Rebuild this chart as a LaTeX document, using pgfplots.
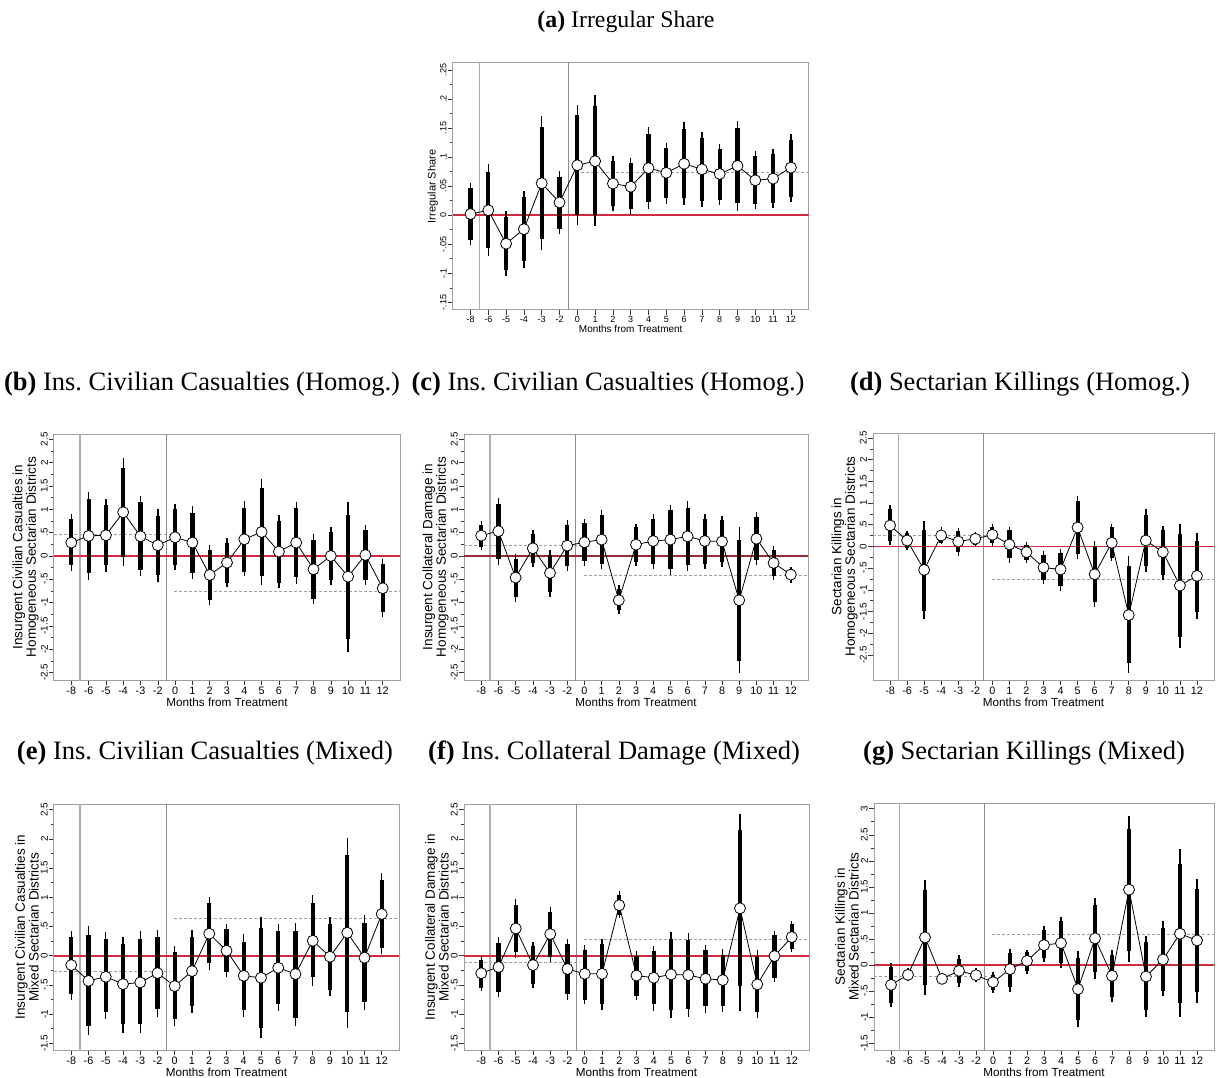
\documentclass[border=0pt]{standalone}
\usepackage{pgfplots}
\pgfplotsset{compat=1.18}
\usepackage{pgfplotstable}
\usepackage{fontspec}
\setmainfont{Liberation Sans}
\newfontfamily\tfont{Liberation Serif}
\definecolor{zred}{RGB}{212,40,62}
\definecolor{zdred}{RGB}{150,40,55}
\definecolor{vgA}{RGB}{175,175,175}
\definecolor{vgB}{RGB}{140,140,140}
\definecolor{mgray}{RGB}{160,160,160}

\pgfplotstableread{
x m l95 h95 l90 h90
0 .002 -.051 .055 -.043 .046
1 .0085 -.07 .088 -.056 .074
2 -.049 -.104 .007 -.094 -.003
3 -.024 -.09 .042 -.078 .031
4 .055 -.06 .17 -.041 .152
5 .022 -.033 .076 -.023 .066
6 .086 -.017 .19 0.0 .173
7 .093 -.019 .206 0.0 .1875
8 .0545 .007 .102 .015 .094
9 .049 .001 .098 .01 .09
10 .081 .01 .151 .022 .139
11 .073 .02 .125 .029 .116
12 .0885 .017 .16 .029 .148
13 .079 .014 .144 .025 .133
14 .071 .017 .123 .026 .114
15 .085 .007 .1625 .021 .15
16 .06 .01 .11 .019 .102
17 .063 .012 .114 .021 .105
18 .082 .023 .14 .032 .13
}\tA

\pgfplotstableread{
x m l95 h95 l90 h90
0 .286 -.314 .893 -.2 .786
1 .43 -.514 1.38 -.357 1.21
2 .443 -.336 1.21 -.2 1.086
3 .936 -.214 2.09 -.014 1.89
4 .42 -.44 1.29 -.31 1.16
5 .23 -.55 1.0 -.41 .86
6 .4 -.3 1.11 -.2 1.0
7 .286 -.5 1.06 -.37 .914
8 -.407 -1.06 .236 -.94 .13
9 -.143 -.66 .38 -.57 .27
10 .357 -.44 1.17 -.336 1.03
11 .514 -.62 1.65 -.43 1.45
12 .093 -.69 .88 -.57 .75
13 .286 -.6 1.16 -.46 1.02
14 -.286 -1.04 .46 -.92 .34
15 0.0 -.62 .61 -.51 .51
16 -.443 -2.06 1.16 -1.79 .88
17 .02 -.62 .66 -.51 .557
18 -.693 -1.31 -.07 -1.21 -.17
}\tB

\pgfplotstableread{
x m l95 h95 l90 h90
0 .436 .136 .74 .19 .67
1 .53 -.186 1.24 -.057 1.12
2 -.464 -.986 .05 -.88 -.057
3 .164 -.236 .564 -.15 .48
4 -.364 -.88 .12 -.77 .03
5 .221 -.32 .764 -.22 .657
6 .293 -.214 .8 -.114 .714
7 .35 -.27 .98 -.18 .87
8 -.95 -1.24 -.63 -1.16 -.7
9 .243 -.214 .69 -.13 .61
10 .32 -.27 .907 -.164 .8
11 .35 -.4 1.1 -.27 .98
12 .42 -.33 1.17 -.2 1.036
13 .32 -.27 .907 -.164 .8
14 .31 -.236 .857 -.13 .764
15 -.95 -2.52 .62 -2.25 .35
16 .37 -.186 .94 -.08 .836
17 -.15 -.52 .207 -.436 .12
18 -.4 -.57 -.236 -.52 -.27
}\tC

\pgfplotstableread{
x m l95 h95 l90 h90
0 .485 .023 .96 .115 .86
1 .138 -.077 .346 -.04 .31
2 -.54 -1.67 .577 -1.48 .385
3 .254 .06 .446 .09 .385
4 .115 -.215 .423 -.138 .346
5 .177 0.0 .33 .038 .27
6 .27 .015 .523 .077 .446
7 .046 -.37 .46 -.27 .385
8 -.13 -.37 .1 -.31 .038
9 -.485 -.87 -.115 -.77 -.19
10 -.53 -1.02 -.06 -.92 -.154
11 .438 -.29 1.17 -.17 1.04
12 -.64 -1.4 .115 -1.27 0.0
13 .085 -.33 .523 -.254 .446
14 -1.58 -2.92 -.215 -2.69 -.446
15 .138 -.59 .86 -.46 .73
16 -.13 -.77 .477 -.654 .385
17 -.9 -2.35 .523 -2.09 .28
18 -.677 -1.67 .31 -1.5 .13
}\tD

\pgfplotstableread{
x m l95 h95 l90 h90
0 -.16 -.754 .423 -.657 .326
1 -.43 -1.35 .509 -1.2 .354
2 -.36 -1.09 .41 -.97 .28
3 -.486 -1.32 .326 -1.17 .194
4 -.457 -1.32 .423 -1.17 .28
5 -.297 -1.046 .44 -.914 .326
6 -.52 -1.2 .17 -1.09 .057
7 -.263 -.977 .44 -.857 .326
8 .377 -.246 1.0 -.131 .9
9 .086 -.36 .537 -.274 .451
10 -.343 -1.057 .366 -.93 .24
11 -.377 -1.4 .657 -1.23 .48
12 -.206 -.95 .537 -.83 .423
13 -.314 -1.206 .566 -1.063 .423
14 .257 -.514 1.04 -.371 .9
15 -.017 -.69 .66 -.589 .54
16 .394 -1.23 2.01 -.96 1.726
17 -.034 -.93 .69 -.8 .56
18 .714 .023 1.41 .137 1.3
}\tE

\pgfplotstableread{
x m l95 h95 l90 h90
0 -.3 -.6 -.01 -.56 -.08
1 -.193 -.7 .318 -.625 .22
2 .466 -.034 .966 .06 .875
3 -.16 -.55 .227 -.477 .16
4 .37 -.108 .84 -.02 .756
5 -.227 -.75 .29 -.66 .2
6 -.31 -.83 .176 -.76 .09
7 -.31 -.93 .29 -.83 .2
8 .864 .65 1.11 .69 1.045
9 -.34 -.76 .08 -.69 0.0
10 -.377 -.94 .17 -.834 .086
11 -.32 -1.06 .4 -.93 .286
12 -.331 -1.046 .383 -.92 .27
13 -.394 -.989 .183 -.863 .097
14 -.417 -.96 .114 -.857 .011
15 .811 -.95 2.43 -.514 2.15
16 -.491 -1.063 .097 -.971 0.0
17 -.006 -.457 .429 -.377 .354
18 .32 .069 .594 .114 .537
}\tF

\pgfplotstableread{
x m l95 h95 l90 h90
0 -.378 -.795 .038 -.73 -.04
1 -.186 -.31 -.06 -.27 -.09
2 .532 -.57 1.64 -.39 1.45
3 -.263 -.35 -.19 -.31 -.22
4 -.109 -.41 .186 -.346 .12
5 -.192 -.33 -.06 -.28 -.1
6 -.327 -.54 -.135 -.474 -.186
7 -.077 -.506 .314 -.41 .23
8 .083 -.173 .295 -.12 .25
9 .385 .058 .744 .135 .68
10 .423 -.058 .917 .038 .84
11 -.46 -1.19 .276 -1.05 .135
12 .513 -.27 1.29 -.135 1.16
13 -.205 -.71 .295 -.615 .2
14 1.449 .058 2.86 .276 2.62
15 -.218 -.987 .55 -.86 .436
16 .109 -.6 .84 -.494 .71
17 .603 -1.0 2.22 -.73 1.94
18 .474 -.73 1.66 -.52 1.46
}\tG

\pgfplotsset{
  panel/.style={
    scale only axis, anchor=north west,
    xmin=-1, xmax=19,
    xtick={0,...,18},
    xticklabels={-8,-6,-5,-4,-3,-2,0,1,2,3,4,5,6,7,8,9,10,11,12},
    xtick pos=bottom, ytick pos=left,
    tick align=outside,
    major tick length=5pt, minor tick length=3pt,
    minor y tick num=1,
    axis line style={gray!75, line width=1pt},
    every tick/.style={black!80, line width=0.6pt},
    yticklabel style={rotate=90, anchor=south, inner sep=1pt, font=\fontsize{9.8}{10}\selectfont},
    xticklabel style={inner sep=1.5pt, font=\fontsize{10.8}{11}\selectfont},
    xlabel={Months from Treatment},
    xlabel style={inner sep=0pt, yshift=-2pt, font=\fontsize{11.7}{12}\selectfont},
    ylabel style={align=center, inner sep=1pt, font=\fontsize{13.5}{12.5}\selectfont},
    clip=true,
  },
  pRange/.style={ymin=-2.66, ymax=2.614, ytick={-2.5,-2,...,2.5},
    yticklabels={-2.5,-2,-1.5,-1,-.5,0,.5,1,1.5,2,2.5}},
  pRangeD/.style={ymin=-3.077, ymax=2.615, ytick={-2.5,-2,...,2.5},
    yticklabels={-2.5,-2,-1.5,-1,-.5,0,.5,1,1.5,2,2.5}},
  pRangeE/.style={ymin=-1.614, ymax=2.597, ytick={-1.5,-1,...,2.5},
    yticklabels={-1.5,-1,-.5,0,.5,1,1.5,2,2.5}},
  pRangeG/.style={ymin=-1.628, ymax=3.11, ytick={-1.5,-1,...,3},
    yticklabels={-1.5,-1,-.5,0,.5,1,1.5,2,2.5,3}},
}

\newcommand{\drawpanel}[4]{%
  \addplot[draw=mgray, line width=1pt, dash pattern=on 3pt off 2pt, forget plot] coordinates {(-1,#2) (5.75,#2)};
  \addplot[draw=mgray, line width=1pt, dash pattern=on 3pt off 2pt, forget plot] coordinates {(5.95,#3) (19,#3)};
  \addplot[draw=vgA, line width=1.5pt, forget plot] coordinates {(0.5,-10) (0.5,10)};
  \addplot[draw=vgB, line width=1pt, forget plot] coordinates {(5.5,-10) (5.5,10)};
  \addplot[draw=#4, color=#4, line width=1.6pt, mark=none, forget plot] coordinates {(-1,0) (19,0)};
  \addplot[only marks, mark=none, forget plot, error bars/.cd, y dir=both, y explicit, error mark=none,
     error bar style={line width=1.4pt, black}]
     table[x=x, y=m, y error plus expr=\thisrow{h95}-\thisrow{m}, y error minus expr=\thisrow{m}-\thisrow{l95}] {#1};
  \addplot[only marks, mark=none, forget plot, error bars/.cd, y dir=both, y explicit, error mark=none,
     error bar style={line width=4.2pt, black}]
     table[x=x, y=m, y error plus expr=\thisrow{h90}-\thisrow{m}, y error minus expr=\thisrow{m}-\thisrow{l90}] {#1};
  \addplot[black, line width=0.8pt, mark=*, mark size=5.5pt, mark options={fill=white, draw=black, line width=0.8pt, solid}] table[x=x, y=m] {#1};
}

\begin{document}
\begin{tikzpicture}
\path[use as bounding box] (0,0) rectangle (1220pt,-1077pt);

% titles
\node[font=\tfont\fontsize{23.8}{26}\selectfont, inner sep=0pt] at (626pt,-22pt) {\textbf{(a)} Irregular Share};
\begin{scope}[every node/.style={font=\tfont\fontsize{26.5}{29}\selectfont, inner sep=0pt}]
\node at (202pt,-384pt) {\textbf{(b)} Ins.\ Civilian Casualties (Homog.)};
\node at (608pt,-384pt) {\textbf{(c)} Ins.\ Civilian Casualties (Homog.)};
\node at (1020pt,-384pt) {\textbf{(d)} Sectarian Killings (Homog.)};
\node at (205pt,-753pt) {\textbf{(e)} Ins.\ Civilian Casualties (Mixed)};
\node at (614pt,-753pt) {\textbf{(f)} Ins.\ Collateral Damage (Mixed)};
\node at (1024pt,-753pt) {\textbf{(g)} Sectarian Killings (Mixed)};
\end{scope}

% (a)
\begin{axis}[panel, at={(452.7pt,-63pt)}, width=356pt, height=247pt,
  ymin=-0.163, ymax=0.262, ytick={-0.15,-0.1,...,0.25},
  yticklabels={-.15,-.1,-.05,0,.05,.1,.15,.2,.25},
  xticklabel style={font=\fontsize{9}{10}\selectfont},
  yticklabel style={font=\fontsize{9}{10}\selectfont},
  xlabel style={font=\fontsize{10}{11}\selectfont, yshift=1pt},
  ylabel style={font=\fontsize{11}{12}\selectfont},
  ylabel={Irregular Share}]
\drawpanel{\tA}{0.002}{0.073}{zred}
\end{axis}

% (b)
\begin{axis}[panel, pRange, at={(54pt,-434pt)}, width=346pt, height=246pt,
  ylabel={Insurgent Civilian Casualties in\\Homogeneous Sectarian Districts}]
\drawpanel{\tB}{0.464}{-0.771}{zred}
\end{axis}

% (c)
\begin{axis}[panel, pRange, at={(464pt,-434pt)}, width=344pt, height=246pt,
  ylabel={Insurgent Collateral Damage in\\Homogeneous Sectarian Districts}]
\drawpanel{\tC}{0.214}{-0.42}{zdred}
\end{axis}

% (d)
\begin{axis}[panel, pRangeD, at={(873pt,-433pt)}, width=341pt, height=247pt,
  ylabel={Sectarian Killings in\\Homogeneous Sectarian Districts}]
\drawpanel{\tD}{0.254}{-0.77}{zred}
\end{axis}

% (e)
\begin{axis}[panel, pRangeE, at={(54pt,-804pt)}, width=345pt, height=246pt,
  ylabel={Insurgent Civilian Casualties in\\Mixed Sectarian Districts}]
\drawpanel{\tE}{-0.263}{0.629}{zred}
\end{axis}

% (f)
\begin{axis}[panel, pRangeE, at={(464pt,-804pt)}, width=345pt, height=246pt,
  ylabel={Insurgent Collateral Damage in\\Mixed Sectarian Districts}]
\drawpanel{\tF}{-0.12}{0.284}{zred}
\end{axis}

% (g)
\begin{axis}[panel, pRangeG, at={(874pt,-803pt)}, width=340pt, height=247pt,
  ylabel={Sectarian Killings in\\Mixed Sectarian Districts}]
\drawpanel{\tG}{-0.218}{0.596}{zred}
\end{axis}
\end{tikzpicture}
\end{document}
